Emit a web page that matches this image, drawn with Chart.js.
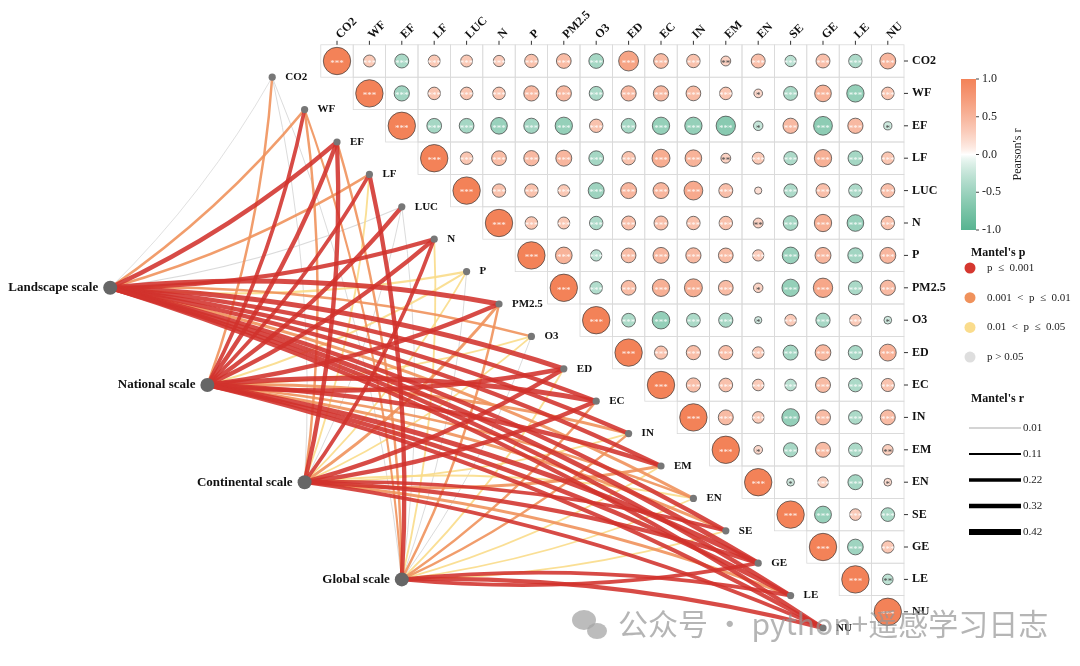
<!DOCTYPE html>
<html>
<head>
<meta charset="utf-8">
<script src="https://cdn.jsdelivr.net/npm/chart.js@4.4.1/dist/chart.umd.min.js"></script>
<style>
  html, body { margin: 0; padding: 0; background: #fff; }
  #wrap { width: 1080px; height: 666px; }
</style>
</head>
<body>
<div id="wrap"><canvas id="chart" width="1080" height="666"></canvas></div>
<script>
// variables (heatmap rows / columns)
const vars = ['CO2', 'WF', 'EF', 'LF', 'LUC', 'N', 'P', 'PM2.5', 'O3', 'ED', 'EC', 'IN', 'EM', 'EN', 'SE', 'GE', 'LE', 'NU'];

// Pearson's r, upper triangle, each row starts right after the diagonal
const r_CO2 = [0.19, -0.26, 0.19, 0.19, 0.17, 0.24, 0.29, -0.29, 0.53, 0.29, 0.24, 0.13, 0.26, -0.17, 0.26, -0.24, 0.34];
const r_WF = [-0.31, 0.21, 0.21, 0.21, 0.31, 0.31, -0.26, 0.31, 0.31, 0.29, 0.21, 0.10, -0.26, 0.37, -0.40, 0.21];
const r_EF = [-0.29, -0.29, -0.37, -0.31, -0.40, 0.24, -0.29, -0.40, -0.40, -0.50, -0.12, 0.31, -0.47, 0.31, -0.09];
const r_LF = [0.21, 0.29, 0.31, 0.34, -0.29, 0.24, 0.43, 0.37, 0.13, 0.19, -0.24, 0.40, -0.29, 0.21];
const r_LUC = [0.24, 0.24, 0.19, -0.34, 0.34, 0.34, 0.47, 0.26, 0.07, -0.24, 0.26, -0.24, 0.26];
const r_N = [0.21, 0.19, -0.24, 0.26, 0.26, 0.24, 0.24, 0.13, -0.29, 0.40, -0.37, 0.24];
const r_P = [0.37, -0.17, 0.29, 0.34, 0.31, 0.29, 0.17, -0.37, 0.34, -0.31, 0.34];
const r_PM25 = [-0.21, 0.29, 0.40, 0.43, 0.29, 0.12, -0.40, 0.50, -0.26, 0.31];
const r_O3 = [-0.25, -0.41, -0.25, -0.27, -0.07, 0.18, -0.27, 0.18, -0.08];
const r_ED = [0.23, 0.27, 0.27, 0.18, -0.30, 0.33, -0.27, 0.38];
const r_EC = [0.27, 0.25, 0.18, -0.18, 0.30, -0.25, 0.23];
const r_IN = [0.30, 0.18, -0.41, 0.30, -0.25, 0.30];
const r_EM = [0.10, -0.27, 0.30, -0.25, 0.15];
const r_EN = [-0.08, 0.15, -0.30, 0.08];
const r_SE = [-0.38, 0.18, -0.25];
const r_GE = [-0.33, 0.20];
const r_LE = [-0.15];
const pearsonRows = [r_CO2, r_WF, r_EF, r_LF, r_LUC, r_N, r_P, r_PM25, r_O3, r_ED, r_EC, r_IN, r_EM, r_EN, r_SE, r_GE, r_LE];

// cells that are not marked *** (all others are)
const weakStars = [
  ['CO2', 'EM', '**'], ['WF', 'EN', '*'], ['EF', 'EN', '*'], ['EF', 'NU', '*'],
  ['LF', 'EM', '**'], ['LUC', 'EN', ''], ['N', 'EN', '**'], ['PM2.5', 'EN', '*'],
  ['O3', 'EN', '*'], ['O3', 'NU', '*'], ['EM', 'EN', '*'], ['EM', 'NU', '**'],
  ['EN', 'SE', '*'], ['EN', 'NU', '*'], ['LE', 'NU', '**']
];

// Mantel test: one r and one p per variable for each scale
const scaleNames = ['Landscape scale', 'National scale', 'Continental scale', 'Global scale'];
const mantelR_landscape = [0.02, 0.15, 0.30, 0.15, 0.05, 0.28, 0.12, 0.35, 0.15, 0.35, 0.30, 0.30, 0.30, 0.20, 0.30, 0.35, 0.30, 0.30];
const mantelP_landscape = [0.30, 0.005, 0.001, 0.005, 0.20, 0.001, 0.03, 0.001, 0.005, 0.001, 0.001, 0.001, 0.001, 0.005, 0.001, 0.001, 0.001, 0.001];
const mantelR_national = [0.15, 0.25, 0.30, 0.25, 0.30, 0.30, 0.12, 0.30, 0.10, 0.33, 0.35, 0.20, 0.30, 0.15, 0.20, 0.35, 0.30, 0.30];
const mantelP_national = [0.005, 0.001, 0.001, 0.001, 0.001, 0.001, 0.03, 0.001, 0.03, 0.001, 0.001, 0.005, 0.001, 0.005, 0.005, 0.001, 0.001, 0.001];
const mantelR_continental = [0.03, 0.15, 0.30, 0.10, 0.03, 0.25, 0.10, 0.18, 0.10, 0.30, 0.30, 0.10, 0.20, 0.10, 0.25, 0.30, 0.20, 0.25];
const mantelP_continental = [0.30, 0.005, 0.001, 0.03, 0.30, 0.001, 0.03, 0.005, 0.03, 0.001, 0.001, 0.03, 0.005, 0.03, 0.001, 0.001, 0.005, 0.001];
const mantelR_global = [0.03, 0.12, 0.15, 0.30, 0.03, 0.10, 0.03, 0.15, 0.03, 0.10, 0.15, 0.15, 0.10, 0.08, 0.10, 0.25, 0.25, 0.30];
const mantelP_global = [0.30, 0.005, 0.005, 0.001, 0.30, 0.03, 0.30, 0.005, 0.30, 0.03, 0.005, 0.005, 0.03, 0.03, 0.03, 0.001, 0.001, 0.001];
const mantelR = [mantelR_landscape, mantelR_national, mantelR_continental, mantelR_global];
const mantelP = [mantelP_landscape, mantelP_national, mantelP_continental, mantelP_global];

// legend contents
const colorTicks = [1.0, 0.5, 0.0, -0.5, -1.0];
const pClassLabels = ['p  \u2264  0.001', '0.001  <  p  \u2264  0.01', '0.01  <  p  \u2264  0.05', 'p > 0.05'];
const rBreaks = [0.01, 0.11, 0.22, 0.32, 0.42];

// ---- styling helpers
const SERIF = '"Liberation Serif", "DejaVu Serif", serif';
const CELL = 32.4;
const POS = [243, 130, 88], NEG = [88, 180, 145], MID = [255, 255, 255];
const P_COLORS = ['rgba(210,50,44,0.88)', 'rgba(240,146,92,0.9)', 'rgba(250,219,138,0.9)', 'rgba(214,214,214,0.9)'];
const P_DOTS = ['#D5372F', '#F0925C', '#FADC8C', '#DEDEDE'];

function mix(a, b, t) { return a.map((v, k) => Math.round(v + (b[k] - v) * t)); }
function rColor(r, gamma) {
  const t = Math.pow(Math.abs(r), gamma || 0.5);
  return 'rgb(' + mix(MID, r >= 0 ? POS : NEG, t).join(',') + ')';
}
function pClass(p) { return p <= 0.001 ? 0 : p <= 0.01 ? 1 : p <= 0.05 ? 2 : 3; }
function lineWidth(r) { return 0.6 + 12.5 * r; }

// ---- heatmap cells from the rows
const heatCells = [];
pearsonRows.forEach((row, i) => {
  heatCells.push({ x: i, y: i, v: 1 });
  row.forEach((v, k) => heatCells.push({ x: i + 1 + k, y: i, v: v }));
});
heatCells.push({ x: vars.length - 1, y: vars.length - 1, v: 1 });

const starMap = {};
weakStars.forEach(([a, b, s]) => { starMap[a + '|' + b] = s; });

// points where the links end (one step left/down of the diagonal)
const varPoints = vars.map((v, j) => ({ x: j - 2, y: j + 0.5 }));
const scaleNodes = scaleNames.map((s, k) => ({ x: -7 + 3 * k, y: 7 + 3 * k }));

// draws grid, curved links, text and legends
const decor = {
  id: 'decor',
  beforeDatasetsDraw(chart) {
    const ctx = chart.ctx, xs = chart.scales.x, ys = chart.scales.y;
    const px = v => xs.getPixelForValue(v), py = v => ys.getPixelForValue(v);
    ctx.save();
    // grid of the upper triangle
    ctx.strokeStyle = '#dadada';
    ctx.lineWidth = 0.8;
    for (let i = 0; i < vars.length; i++) {
      for (let j = i; j < vars.length; j++) {
        ctx.strokeRect(px(j - 0.5), py(i - 0.5), px(j + 0.5) - px(j - 0.5), py(i + 0.5) - py(i - 0.5));
      }
    }
    // axis ticks
    ctx.strokeStyle = '#333';
    ctx.lineWidth = 1;
    vars.forEach((v, j) => {
      ctx.beginPath();
      ctx.moveTo(px(j), py(-0.5)); ctx.lineTo(px(j), py(-0.5) - 4);
      ctx.moveTo(px(vars.length - 0.5), py(j)); ctx.lineTo(px(vars.length - 0.5) + 4, py(j));
      ctx.stroke();
    });
    // curved links, grey first, red on top
    const links = [];
    scaleNodes.forEach((n, s) => {
      vars.forEach((v, j) => links.push({ s, j, r: mantelR[s][j], c: pClass(mantelP[s][j]) }));
    });
    links.sort((a, b) => b.c - a.c);
    links.forEach(l => {
      const x0 = px(scaleNodes[l.s].x), y0 = py(scaleNodes[l.s].y);
      const x1 = px(varPoints[l.j].x), y1 = py(varPoints[l.j].y);
      const dx = x1 - x0, dy = y1 - y0, len = Math.hypot(dx, dy);
      const nx = dy < 0 ? -dy / len : dy / len, ny = dy < 0 ? dx / len : -dx / len;
      const k = 0.07 * len;
      ctx.beginPath();
      ctx.moveTo(x0, y0);
      ctx.quadraticCurveTo((x0 + x1) / 2 + nx * k, (y0 + y1) / 2 + ny * k, x1, y1);
      ctx.strokeStyle = P_COLORS[l.c];
      ctx.lineWidth = lineWidth(l.r);
      ctx.stroke();
    });
    ctx.restore();
  },
  afterDatasetsDraw(chart) {
    const ctx = chart.ctx, xs = chart.scales.x, ys = chart.scales.y;
    const px = v => xs.getPixelForValue(v), py = v => ys.getPixelForValue(v);
    ctx.save();
    // stars
    ctx.textAlign = 'center';
    ctx.textBaseline = 'middle';
    heatCells.forEach(c => {
      const key = vars[c.y] + '|' + vars[c.x];
      const s = key in starMap ? starMap[key] : '***';
      if (!s) return;
      ctx.fillStyle = s === '***' ? 'rgba(255,255,255,0.9)' : '#444';
      ctx.font = '9px ' + SERIF;
      ctx.fillText(s, px(c.x), py(c.y) + 2.5);
    });
    // column labels on top, row labels on the right
    ctx.fillStyle = '#111';
    ctx.font = 'bold 12px ' + SERIF;
    vars.forEach((v, j) => {
      ctx.save();
      ctx.translate(px(j) + 1, py(-0.5) - 8);
      ctx.rotate(-Math.PI / 4);
      ctx.textAlign = 'left';
      ctx.fillText(v, 0, 0);
      ctx.restore();
      ctx.textAlign = 'left';
      ctx.fillText(v, px(vars.length - 0.5) + 8, py(j));
    });
    // labels of link end points
    ctx.font = 'bold 11px ' + SERIF;
    varPoints.forEach((p, j) => ctx.fillText(vars[j], px(p.x) + 13, py(p.y)));
    // scale names
    ctx.font = 'bold 13px ' + SERIF;
    ctx.textAlign = 'right';
    scaleNodes.forEach((n, k) => ctx.fillText(scaleNames[k], px(n.x) - 12, py(n.y)));
    ctx.restore();
  },
  afterDraw(chart) {
    const ctx = chart.ctx;
    ctx.save();
    // colour bar
    const bx = 961, bw = 15, top = 79, bot = 230;
    const grad = ctx.createLinearGradient(0, top, 0, bot);
    for (let k = 0; k <= 40; k++) grad.addColorStop(k / 40, rColor(1 - k / 20, 0.75));
    ctx.fillStyle = grad;
    ctx.fillRect(bx, top, bw, bot - top);
    ctx.strokeStyle = '#444';
    ctx.lineWidth = 1;
    ctx.fillStyle = '#222';
    ctx.font = '12px ' + SERIF;
    ctx.textAlign = 'left';
    ctx.textBaseline = 'middle';
    colorTicks.forEach(t => {
      const y = top + (1 - t) / 2 * (bot - top);
      ctx.beginPath(); ctx.moveTo(bx + bw, y); ctx.lineTo(bx + bw + 3, y); ctx.stroke();
      ctx.fillText(t.toFixed(1), bx + bw + 6, y);
    });
    ctx.save();
    ctx.translate(1018, (top + bot) / 2);
    ctx.rotate(-Math.PI / 2);
    ctx.textAlign = 'center';
    ctx.fillText("Pearson's r", 0, 0);
    ctx.restore();

    // Mantel's p legend
    ctx.font = 'bold 12px ' + SERIF;
    ctx.fillStyle = '#111';
    ctx.fillText("Mantel's p", 971, 253);
    pClassLabels.forEach((lab, k) => {
      const y = 268 + k * 29.7;
      ctx.beginPath();
      ctx.arc(970, y, 5.5, 0, Math.PI * 2);
      ctx.fillStyle = P_DOTS[k];
      ctx.fill();
      ctx.fillStyle = '#222';
      ctx.font = '11px ' + SERIF;
      ctx.fillText(lab, 987, y);
    });

    // Mantel's r legend
    ctx.font = 'bold 12px ' + SERIF;
    ctx.fillStyle = '#111';
    ctx.fillText("Mantel's r", 971, 399);
    rBreaks.forEach((r, k) => {
      const y = 428 + k * 26;
      ctx.beginPath();
      ctx.moveTo(969, y); ctx.lineTo(1021, y);
      ctx.strokeStyle = k === 0 ? '#888' : '#000';
      ctx.lineWidth = lineWidth(r);
      ctx.stroke();
      ctx.fillStyle = '#222';
      ctx.font = '11px ' + SERIF;
      ctx.fillText(r.toFixed(2), 1023, y);
    });

    // watermark
    ctx.fillStyle = 'rgba(165,165,165,0.75)';
    ctx.beginPath(); ctx.ellipse(584, 620, 12, 10, 0, 0, Math.PI * 2); ctx.fill();
    ctx.beginPath(); ctx.ellipse(597, 631, 10, 8, 0, 0, Math.PI * 2); ctx.fill();
    ctx.fillStyle = 'rgba(150,150,150,0.7)';
    ctx.font = '30px "Noto Sans CJK SC", sans-serif';
    ctx.textAlign = 'left';
    ctx.fillText('\u516C\u4F17\u53F7 \u00B7 python+\u9065\u611F\u5B66\u4E60\u65E5\u5FD7', 618, 624);
    ctx.restore();
  }
};

const ctx = document.getElementById('chart').getContext('2d');
new Chart(ctx, {
  type: 'bubble',
  data: {
    datasets: [
      {
        label: 'pearson',
        data: heatCells.map(c => ({ x: c.x, y: c.y, r: 13.7 * Math.sqrt(Math.abs(c.v)) })),
        backgroundColor: heatCells.map(c => rColor(c.v)),
        borderColor: '#3a3a3a',
        borderWidth: 0.7
      },
      {
        label: 'variables',
        data: varPoints.map(p => ({ x: p.x, y: p.y, r: 3.6 })),
        backgroundColor: '#777',
        borderWidth: 0
      },
      {
        label: 'scales',
        data: scaleNodes.map(n => ({ x: n.x, y: n.y, r: 7 })),
        backgroundColor: '#666',
        borderWidth: 0
      }
    ]
  },
  options: {
    responsive: false,
    animation: false,
    events: [],
    layout: { padding: 0, autoPadding: false },
    plugins: { legend: { display: false }, tooltip: { enabled: false } },
    scales: {
      x: { type: 'linear', display: false, min: -337 / CELL, max: (1080 - 337) / CELL },
      y: { type: 'linear', display: false, reverse: true, min: -61 / CELL, max: (666 - 61) / CELL }
    }
  },
  plugins: [decor]
});
</script>
</body>
</html>
